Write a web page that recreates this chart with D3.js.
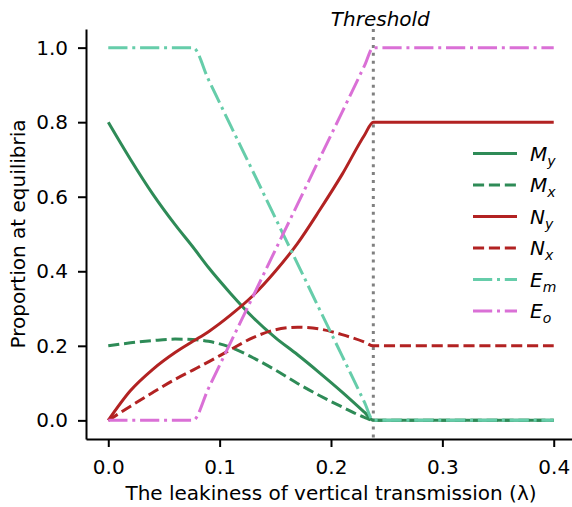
<!DOCTYPE html>
<html>
<head>
<meta charset="utf-8">
<script src="https://cdn.jsdelivr.net/npm/d3@7"></script>
<style>
  body { margin: 0; background: #fff; }
  text { font-family: "DejaVu Sans", sans-serif; }
</style>
</head>
<body>
<svg id="chart"></svg>
<script>
// values
const lambda = [0, 0.02, 0.04, 0.06, 0.076, 0.09, 0.11, 0.13, 0.15, 0.17, 0.19, 0.21, 0.23, 0.238, 0.26, 0.3, 0.35, 0.4];
const My = [0.80, 0.70, 0.607, 0.525, 0.465, 0.41, 0.34, 0.276, 0.222, 0.176, 0.127, 0.076, 0.022, 0.0, 0, 0, 0, 0];
const Mx = [0.20, 0.208, 0.214, 0.218, 0.217, 0.212, 0.196, 0.168, 0.135, 0.099, 0.066, 0.036, 0.008, 0.0, 0, 0, 0, 0];
const Ny = [0, 0.08, 0.137, 0.182, 0.212, 0.238, 0.283, 0.335, 0.40, 0.475, 0.565, 0.66, 0.765, 0.80, 0.8, 0.8, 0.8, 0.8];
const Nx = [0, 0.038, 0.075, 0.11, 0.135, 0.157, 0.19, 0.222, 0.243, 0.25, 0.245, 0.23, 0.21, 0.20, 0.2, 0.2, 0.2, 0.2];
const Em = [1, 1, 1, 1, 1, 0.914, 0.79, 0.667, 0.543, 0.42, 0.296, 0.173, 0.049, 0, 0, 0, 0, 0];
const Eo = [0, 0, 0, 0, 0, 0.086, 0.21, 0.333, 0.457, 0.58, 0.704, 0.827, 0.951, 1, 1, 1, 1, 1];
const threshold = 0.238;
const xTicks = [0, 0.1, 0.2, 0.3, 0.4];
const yTicks = [0, 0.2, 0.4, 0.6, 0.8, 1.0];

const w = 572, h = 507;
const lw = 3;
const dashed = [3.7 * lw, 1.6 * lw].join(',');
const dashdot = [6.4 * lw, 1.6 * lw, lw, 1.6 * lw].join(',');

const series = [
  {name: 'M', sub: 'y', values: My, color: '#2e8b57', dash: null},
  {name: 'M', sub: 'x', values: Mx, color: '#2e8b57', dash: dashed},
  {name: 'N', sub: 'y', values: Ny, color: '#b22222', dash: null},
  {name: 'N', sub: 'x', values: Nx, color: '#b22222', dash: dashed},
  {name: 'E', sub: 'm', values: Em, color: '#66cdaa', dash: dashdot},
  {name: 'E', sub: 'o', values: Eo, color: '#da70d6', dash: dashdot}
];

var x = d3.scaleLinear().domain([-0.02, 0.42]).range([86, 576]);
var y = d3.scaleLinear().domain([-0.05, 1.05]).range([439, 29]);

var svg = d3.select('#chart')
  .attr('width', w)
  .attr('height', h);

// axes (left and bottom spines only)
var xAxis = svg.append('g')
  .attr('transform', 'translate(0,439)')
  .call(d3.axisBottom(x).tickValues(xTicks).tickFormat(d3.format('.1f')).tickSize(8).tickPadding(13).tickSizeOuter(0));

var yAxis = svg.append('g')
  .attr('transform', 'translate(86,0)')
  .call(d3.axisLeft(y).tickValues(yTicks).tickFormat(d3.format('.1f')).tickSize(8).tickPadding(10).tickSizeOuter(0));

[xAxis, yAxis].forEach(function(g) {
  g.select('.domain').attr('stroke', '#000').attr('stroke-width', 2);
  g.selectAll('.tick line').attr('stroke', '#000').attr('stroke-width', 2);
  g.selectAll('.tick text').attr('fill', '#000').style('font-size', '20px').style('font-family', '"DejaVu Sans", sans-serif');
});

// threshold line
svg.append('line')
  .attr('x1', x(threshold)).attr('x2', x(threshold))
  .attr('y1', 29).attr('y2', 439)
  .attr('stroke', '#808080')
  .attr('stroke-width', 3)
  .attr('stroke-dasharray', '3,4.95');

svg.append('text')
  .attr('x', x(threshold) + 7)
  .attr('y', 26)
  .attr('text-anchor', 'middle')
  .style('font-size', '20px')
  .style('font-style', 'italic')
  .text('Threshold');

// curves
var line = d3.line()
  .x(function(d) { return x(d[0]); })
  .y(function(d) { return y(d[1]); })
  .curve(d3.curveMonotoneX);

svg.selectAll('path.curve')
  .data(series)
  .enter()
  .append('path')
  .attr('class', 'curve')
  .attr('d', function(s) { return line(lambda.map(function(l, i) { return [l, s.values[i]]; })); })
  .attr('fill', 'none')
  .attr('stroke', function(s) { return s.color; })
  .attr('stroke-width', lw)
  .attr('stroke-dasharray', function(s) { return s.dash; });

// legend
var legend = svg.selectAll('g.legend')
  .data(series)
  .enter()
  .append('g')
  .attr('class', 'legend')
  .attr('transform', function(d, i) { return 'translate(0,' + (153.5 + i * 31.5) + ')'; });

legend.append('line')
  .attr('x1', 473).attr('x2', 517)
  .attr('y1', 0).attr('y2', 0)
  .attr('stroke', function(d) { return d.color; })
  .attr('stroke-width', lw)
  .attr('stroke-dasharray', function(d) { return d.dash; });

var lt = legend.append('text')
  .attr('x', 530)
  .attr('y', 7)
  .style('font-size', '20px')
  .style('font-style', 'italic');
lt.append('tspan').text(function(d) { return d.name; });
lt.append('tspan')
  .attr('dy', 5)
  .style('font-size', '14px')
  .text(function(d) { return d.sub; });

// axis labels
svg.append('text')
  .attr('x', 331)
  .attr('y', 500)
  .attr('text-anchor', 'middle')
  .style('font-size', '20px')
  .text('The leakiness of vertical transmission (\u03bb)');

svg.append('text')
  .attr('transform', 'translate(25,234) rotate(-90)')
  .attr('text-anchor', 'middle')
  .style('font-size', '20px')
  .text('Proportion at equilibria');
</script>
</body>
</html>
